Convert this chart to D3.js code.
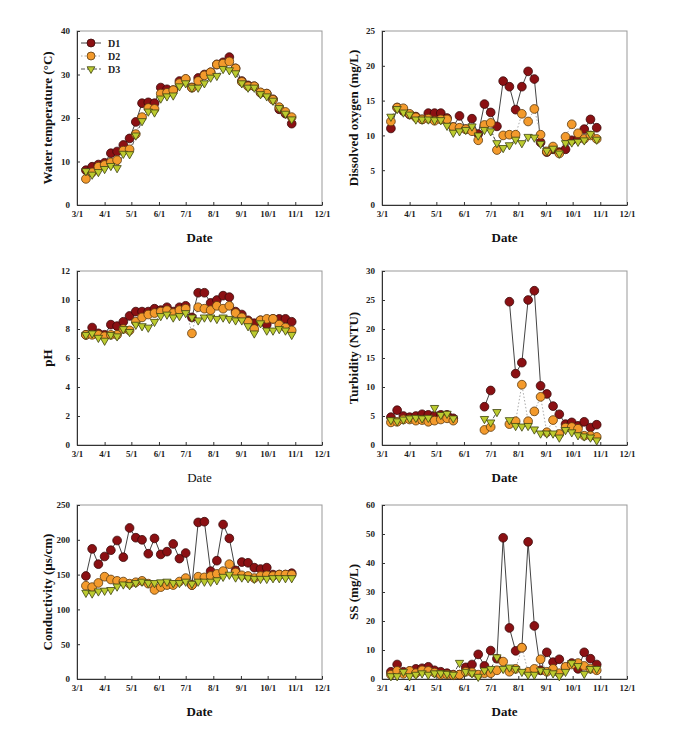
<!DOCTYPE html>
<html><head><meta charset="utf-8">
<script src="https://cdn.jsdelivr.net/npm/d3@7"></script>
<style>body{margin:0;background:#fff}svg{display:block}</style>
</head><body>
<script>
// sampling dates (weekly)
const dates = ["3/11","3/18","3/25","4/1","4/8","4/15","4/22","4/29","5/6","5/13","5/20","5/27","6/3","6/10","6/17","6/24","7/1","7/8","7/15","7/22","7/29","8/5","8/12","8/19","8/26","9/2","9/9","9/16","9/23","9/30","10/7","10/14","10/21","10/28"];
const xTickLabels = ["3/1","4/1","5/1","6/1","7/1","8/1","9/1","10/1","11/1","12/1"];
const seriesNames = ["D1","D2","D3"];

const tempD1 = [8.0,8.8,9.3,9.7,11.9,12.3,13.8,15.3,19.1,23.4,23.6,23.4,27.0,26.6,26.4,28.5,28.9,27.0,29.2,30.0,30.5,32.3,32.8,34.0,31.4,28.5,27.5,27.3,25.8,25.6,24.3,22.0,21.0,18.7];
const tempD2 = [6.0,7.5,8.8,9.2,9.8,10.3,12.5,12.8,16.3,20.2,22.3,22.1,25.6,25.8,26.4,28.0,29.0,27.0,28.5,29.8,30.5,32.3,32.5,33.0,31.4,28.3,27.3,27.3,25.9,25.6,24.2,22.5,21.4,20.2];
const tempD3 = [7.8,7.0,7.6,8.3,9.0,8.5,11.8,11.7,16.0,19.3,21.5,21.3,24.5,25.0,25.2,27.3,28.0,27.0,27.0,28.0,29.3,29.7,31.3,31.0,30.3,28.0,27.0,27.0,25.5,25.0,24.0,22.3,21.0,19.7];

const doD1 = [11.0,14.0,13.5,13.0,12.7,12.3,13.2,13.2,13.2,12.5,11.2,12.8,10.9,12.4,10.2,14.5,13.3,11.3,17.8,17.0,13.7,17.0,19.2,18.1,9.0,7.6,8.0,7.6,8.0,9.3,9.5,10.9,12.3,11.1];
const doD2 = [12.0,14.0,13.9,13.1,12.6,12.3,12.4,12.1,12.3,12.3,11.2,11.1,10.9,10.6,9.3,11.5,11.8,7.9,10.0,10.1,10.1,13.1,12.0,13.8,10.1,7.7,8.4,7.4,9.8,11.6,10.3,9.5,10.0,9.5];
const doD3 = [12.7,13.8,13.3,13.0,12.3,12.3,12.3,12.2,12.2,11.4,10.4,10.6,10.8,11.3,10.0,10.8,10.6,8.9,8.2,8.6,9.4,8.9,9.8,9.7,8.8,7.8,8.1,7.4,8.9,9.0,9.1,9.3,10.2,9.4];

const phD1 = [7.6,8.1,7.7,7.6,8.3,8.2,8.5,8.9,9.2,9.2,9.2,9.4,9.3,9.5,9.2,9.5,9.6,8.8,10.5,10.5,9.8,10.0,10.3,10.2,9.2,9.0,8.6,8.4,8.6,8.3,8.7,8.7,8.7,8.5];
const phD2 = [7.6,7.6,7.6,7.5,7.6,7.6,8.0,7.9,8.5,8.8,9.0,9.1,9.2,9.3,9.1,9.3,9.4,7.7,9.5,9.4,9.3,9.6,9.4,9.6,9.1,8.8,8.5,8.0,8.6,8.7,8.7,8.3,8.1,7.9];
const phD3 = [7.6,7.7,7.4,7.2,7.6,7.5,8.0,7.8,8.3,8.2,8.1,8.5,8.9,9.0,8.8,8.9,9.1,8.8,8.6,8.8,8.8,8.7,8.8,8.7,8.6,8.6,8.2,7.7,8.4,7.9,7.9,8.0,7.9,7.6];

const turbD1 = [4.8,6.0,5.0,4.8,5.0,5.3,5.2,5.0,5.2,5.2,4.6,null,null,null,null,6.6,9.4,null,null,24.7,12.3,14.2,25.0,26.6,10.2,8.8,6.7,5.3,3.6,3.9,3.3,4.0,3.0,3.5];
const turbD2 = [3.9,4.0,4.4,4.4,4.2,4.3,4.0,4.2,4.4,4.6,4.2,null,null,null,null,2.6,3.1,null,null,3.6,4.1,10.4,4.1,5.8,8.3,2.2,4.3,1.9,3.0,3.1,2.8,1.6,1.6,1.4];
const turbD3 = [4.3,4.1,4.4,4.6,4.7,4.6,4.7,6.4,5.2,5.4,4.6,null,null,null,null,4.5,3.9,5.7,null,4.3,3.3,3.2,3.3,2.7,2.0,2.0,2.0,1.3,2.6,2.2,1.7,1.5,1.3,0.8];

const condD1 = [148,187,165,176,185,199,175,217,203,200,180,202,179,183,194,173,181,135,225,226,155,170,222,202,156,168,167,160,158,160,150,150,150,152];
const condD2 = [134,132,138,147,143,141,140,137,139,141,137,128,132,135,135,140,145,135,147,146,148,151,155,165,153,149,148,145,148,149,148,150,150,150];
const condD3 = [124,123,126,127,128,133,136,135,138,140,138,138,139,140,138,138,140,137,140,140,140,142,147,150,146,146,145,144,144,144,145,145,145,145];

const ssD1 = [2.5,5.0,2.5,2.7,3.5,3.7,4.2,3.0,2.5,2.0,1.5,1.5,4.0,5.0,8.5,4.5,9.8,7.0,48.7,17.6,9.7,10.8,47.3,18.3,3.0,9.2,5.8,6.8,4.0,5.5,3.5,9.2,7.0,5.0];
const ssD2 = [1.5,2.8,1.8,2.8,2.0,3.0,2.8,2.2,1.5,1.5,1.3,1.5,2.5,2.3,1.5,2.0,2.0,3.0,6.0,2.5,3.5,10.8,2.5,3.5,6.8,2.5,3.5,2.0,4.2,5.0,5.5,4.5,3.5,3.0];
const ssD3 = [1.0,1.0,2.5,1.0,1.5,2.0,1.5,2.0,2.0,1.8,1.5,5.6,2.5,2.0,0.8,3.0,3.5,7.5,3.5,4.0,3.5,2.5,1.5,1.5,3.0,2.5,2.0,1.0,2.5,5.5,4.5,1.8,3.5,3.5];

const panels = [
  {title:"Water temperature (\u00B0C)", max:40, step:10, data:[tempD1,tempD2,tempD3], col:0,row:0, legend:true},
  {title:"Dissolved oxygen (mg/L)", max:25, step:5, data:[doD1,doD2,doD3], col:1,row:0},
  {title:"pH", max:12, step:2, data:[phD1,phD2,phD3], col:0,row:1, dateNormal:true},
  {title:"Turbidity (NTU)", max:30, step:5, data:[turbD1,turbD2,turbD3], col:1,row:1},
  {title:"Conductivity (\u00B5s/cm)", max:250, step:50, data:[condD1,condD2,condD3], col:0,row:2},
  {title:"SS (mg/L)", max:60, step:10, data:[ssD1,ssD2,ssD3], col:1,row:2}
];

const W=684,H=732;
const colX=[{l:77,r:322,t:47},{l:382,r:627,t:353}];
const rowY=[{t:31,b:205},{t:271,b:445},{t:505,b:679}];
const fill=["#8b1013","#f39a2c","#bccb2f"];
const stroke=["#3a0a0a","#5a3a10","#3d4210"];
const lineCol=["#444","#aaa","#555"];
const dash=[null,"1.5,2","4,2"];
const font="'Liberation Serif','Times New Roman',serif";

const parse = d3.timeParse("%Y/%m/%d");
const dt = dates.map(s=>parse("2009/"+s));
const xt = xTickLabels.map(s=>parse("2009/"+s));

const svg=d3.select("body").append("svg").attr("width",W).attr("height",H).style("font-family",font);

panels.forEach(p=>{
  const c=colX[p.col], r=rowY[p.row];
  const x=d3.scaleTime().domain([xt[0],xt[xt.length-1]]).range([c.l,c.r]);
  const y=d3.scaleLinear().domain([0,p.max]).range([r.b,r.t]);
  const g=svg.append("g");
  g.append("rect").attr("x",c.l).attr("y",r.t).attr("width",c.r-c.l).attr("height",r.b-r.t)
    .attr("fill","none").attr("stroke","#999").attr("stroke-width",1);
  const xa=g.append("g").attr("transform",`translate(0,${r.b})`)
    .call(d3.axisBottom(x).tickValues(xt).tickFormat((d,i)=>xTickLabels[i]).tickSizeInner(-3).tickSizeOuter(0).tickPadding(6));
  const ya=g.append("g").attr("transform",`translate(${c.l},0)`)
    .call(d3.axisLeft(y).tickValues(d3.range(0,p.max+0.001,p.step)).tickSizeInner(-3).tickSizeOuter(0).tickPadding(7));
  [xa,ya].forEach(a=>{
    a.select(".domain").attr("stroke","#333");
    a.selectAll("line").attr("stroke","#333");
    a.selectAll("text").attr("font-family",font).attr("font-size",9).attr("font-weight","bold").attr("fill","#222");
  });
  g.append("text").attr("x",(c.l+c.r)/2).attr("y",r.b+37).attr("text-anchor","middle")
    .attr("font-size",13).attr("font-weight",p.dateNormal?"normal":"bold").attr("fill","#111").text("Date");
  g.append("text").attr("transform",`translate(${c.t},${(r.t+r.b)/2}) rotate(-90)`).attr("text-anchor","middle")
    .attr("dy","0.35em").attr("font-size",13).attr("font-weight","bold").attr("fill","#111").text(p.title);
  p.data.forEach((vals,k)=>{
    const pts=vals.map((v,i)=>({d:dt[i],v}));
    const line=d3.line().defined(d=>d.v!=null).x(d=>x(d.d)).y(d=>y(d.v));
    g.append("path").attr("d",line(pts)).attr("fill","none").attr("stroke",lineCol[k]).attr("stroke-width",1)
      .attr("stroke-dasharray",dash[k]);
  });
  p.data.forEach((vals,k)=>{
    const pts=vals.map((v,i)=>({d:dt[i],v})).filter(d=>d.v!=null);
    const sym=k<2?d3.symbol(d3.symbolCircle,60):d3.symbol(d3.symbolTriangle,30);
    g.selectAll(null).data(pts).enter().append("path")
      .attr("d",sym)
      .attr("transform",d=>`translate(${x(d.d)},${y(d.v)})${k==2?" rotate(180)":""}`)
      .attr("fill",fill[k]).attr("stroke",stroke[k]).attr("stroke-width",0.8);
  });
  if(p.legend){
    const lg=g.append("g");
    seriesNames.forEach((n,k)=>{
      const yy=43+k*13;
      lg.append("line").attr("x1",81).attr("x2",101).attr("y1",yy).attr("y2",yy)
        .attr("stroke",lineCol[k]).attr("stroke-width",1).attr("stroke-dasharray",dash[k]);
      const sym=k<2?d3.symbol(d3.symbolCircle,50):d3.symbol(d3.symbolTriangle,26);
      lg.append("path").attr("d",sym).attr("transform",`translate(91,${yy})${k==2?" rotate(180)":""}`)
        .attr("fill",fill[k]).attr("stroke",stroke[k]).attr("stroke-width",0.8);
      lg.append("text").attr("x",108).attr("y",yy).attr("dy","0.35em").attr("font-size",10).attr("font-weight","bold").attr("fill","#222").text(n);
    });
  }
});
</script>
</body></html>
